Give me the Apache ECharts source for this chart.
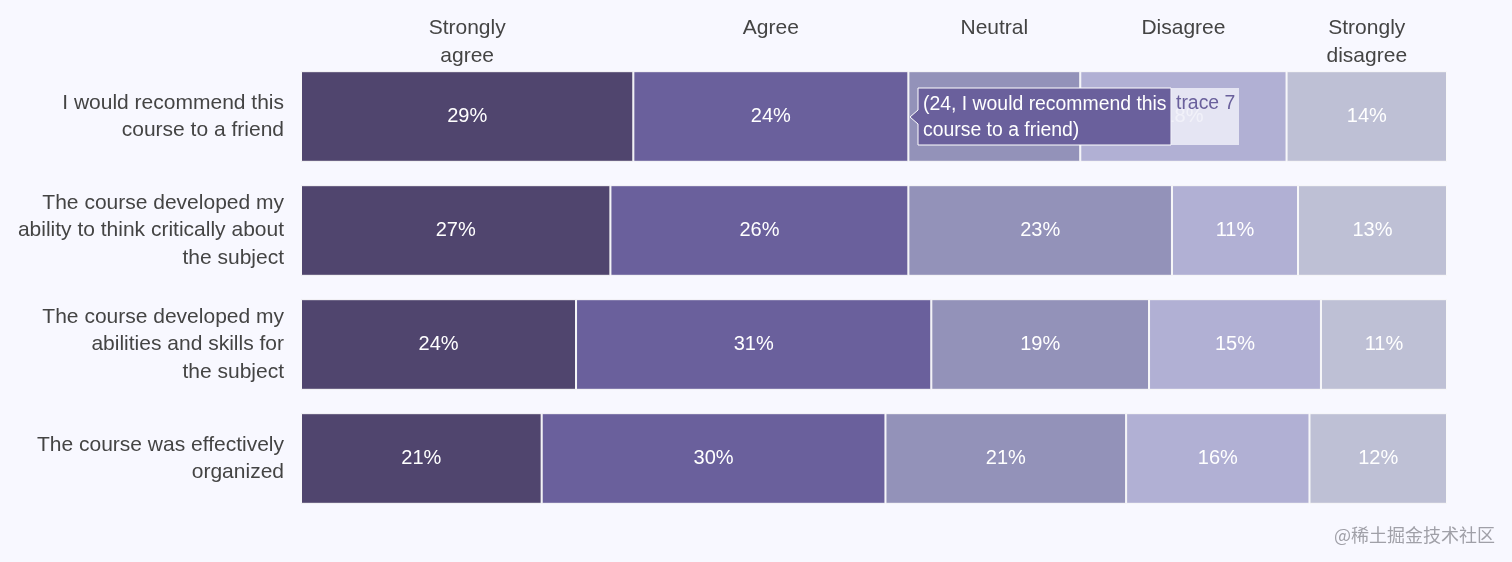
<!DOCTYPE html>
<html><head><meta charset="utf-8">
<script src="https://cdn.jsdelivr.net/npm/echarts@6/dist/echarts.min.js"></script>
<style>html,body{margin:0;padding:0;background:#f8f8ff;}#c{width:1512px;height:562px;}</style>
</head><body><div id="c"></div>
<script>
const categories = [
  'I would recommend this\ncourse to a friend',
  'The course developed my\nability to think critically about\nthe subject',
  'The course developed my\nabilities and skills for\nthe subject',
  'The course was effectively\norganized'
];
const headers = ['Strongly\nagree', 'Agree', 'Neutral', 'Disagree', 'Strongly\ndisagree'];
const stronglyAgree = [29, 27, 24, 21];
const agree = [24, 26, 31, 30];
const neutral = [15, 23, 19, 21];
const disagree = [18, 11, 15, 16];
const stronglyDisagree = [14, 13, 11, 12];
const colors = ['#50456e', '#6a609c', '#9392b9', '#b1b0d4', '#bec0d5'];
const seriesValues = [stronglyAgree, agree, neutral, disagree, stronglyDisagree];

const FONT = 'Liberation Sans, Arial, sans-serif';
const chart = echarts.init(document.getElementById('c'));
const option = {
  backgroundColor: '#f8f8ff',
  animation: false,
  grid: { left: 301, right: 65, top: 59.5, bottom: 46.5 },
  xAxis: { type: 'value', min: 0, max: 100, show: false },
  yAxis: {
    type: 'category', data: categories, inverse: true,
    axisLine: { show: false }, axisTick: { show: false },
    axisLabel: { color: '#444', fontSize: 21, fontFamily: FONT, lineHeight: 27.5, margin: 17, align: 'right' }
  },
  series: seriesValues.map((vals, i) => ({
    type: 'bar', name: headers[i], stack: 'total', data: vals,
    barCategoryGap: '20.5%',
    itemStyle: { color: colors[i], borderColor: '#f8f8f9', borderWidth: 1 },
    label: { show: true, position: 'inside', color: '#fff', fontSize: 20, fontFamily: FONT, formatter: p => p.value + '%' }
  }))
};
chart.setOption(option);

// headers centered above top row segments
const graphics = [];
let cum = 0;
seriesValues.forEach((vals, i) => {
  const mid = cum + vals[0] / 2;
  cum += vals[0];
  const px = chart.convertToPixel({ gridIndex: 0 }, [mid, 0]);
  graphics.push({
    type: 'text', x: px[0], y: 14.5,
    style: { text: headers[i], fill: '#444', font: '21px ' + FONT, align: 'center', verticalAlign: 'top', lineHeight: 27.5 }
  });
});
// hover label
graphics.push({
  type: 'polygon', z: 100,
  shape: { points: [[918, 88], [1171, 88], [1171, 145], [918, 145], [918, 124], [910, 117], [918, 110]] },
  style: { fill: '#6a609c', stroke: '#fff', lineWidth: 1 }
});
graphics.push({
  type: 'rect', z: 100, shape: { x: 1171, y: 88, width: 68, height: 57 },
  style: { fill: 'rgba(238,238,248,0.85)' }
});
graphics.push({
  type: 'text', z: 101, x: 923, y: 117.5,
  style: { text: '(24, I would recommend this\ncourse to a friend)', fill: '#fff', font: '19.4px ' + FONT, verticalAlign: 'middle', lineHeight: 26 }
});
graphics.push({
  type: 'text', z: 101, x: 1176, y: 104,
  style: { text: 'trace 7', fill: '#6a609c', font: '19.4px ' + FONT, verticalAlign: 'middle' }
});
graphics.push({
  type: 'text', x: 1495, y: 535,
  style: { text: '@稀土掘金技术社区', fill: '#a0a0a8', font: '18px "Noto Sans CJK SC", sans-serif', align: 'right', verticalAlign: 'middle' }
});
chart.setOption({ graphic: graphics });
</script>
</body></html>
